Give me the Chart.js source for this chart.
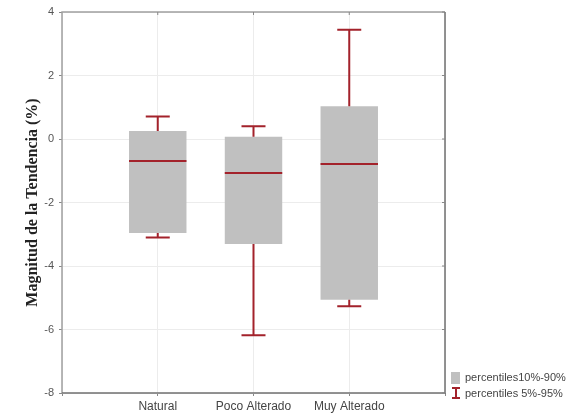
<!DOCTYPE html>
<html>
<head>
<meta charset="utf-8">
<script src="https://cdn.jsdelivr.net/npm/chart.js@4"></script>
<style>
  html, body { margin: 0; padding: 0; background: #fff; }
  #wrap { width: 579px; height: 414px; }
</style>
</head>
<body>
<div id="wrap"><canvas id="boxChart"></canvas></div>
<script>
// categories (empty slots at both ends keep the frame spacing)
const categories = ["", "Natural", "Poco Alterado", "Muy Alterado", ""];
// percentiles 10% and 90% (box)
const p10 = [null, -2.96, -3.31, -5.06, null];
const p90 = [null, 0.25, 0.07, 1.03, null];
// median
const medians = [null, -0.69, -1.07, -0.79, null];
// percentiles 5% and 95% (whiskers)
const p5 = [null, -3.10, -6.18, -5.27, null];
const p95 = [null, 0.71, 0.40, 3.44, null];
const yTicks = [4, 2, 0, -2, -4, -6, -8];
const legendLabels = ["percentiles10%-90%", "percentiles 5%-95%"];

const boxColor = "#c0c0c0";
const redColor = "#a3222b";

// whiskers, medians, frame and legend
const boxPlotExtras = {
  id: "boxPlotExtras",
  afterDatasetsDraw(chart) {
    const ctx = chart.ctx;
    const x = chart.scales.x;
    const y = chart.scales.y;
    const meta = chart.getDatasetMeta(0);
    ctx.save();
    ctx.strokeStyle = redColor;
    ctx.lineWidth = 2;
    categories.forEach((c, i) => {
      if (medians[i] === null) return;
      const cx = x.getPixelForValue(i);
      const half = meta.data[i].width / 2;
      const cap = 12;
      // median
      ctx.beginPath();
      ctx.moveTo(cx - half, y.getPixelForValue(medians[i]));
      ctx.lineTo(cx + half, y.getPixelForValue(medians[i]));
      ctx.stroke();
      // upper whisker
      ctx.beginPath();
      ctx.moveTo(cx, y.getPixelForValue(p90[i]));
      ctx.lineTo(cx, y.getPixelForValue(p95[i]));
      ctx.moveTo(cx - cap, y.getPixelForValue(p95[i]));
      ctx.lineTo(cx + cap, y.getPixelForValue(p95[i]));
      // lower whisker
      ctx.moveTo(cx, y.getPixelForValue(p10[i]));
      ctx.lineTo(cx, y.getPixelForValue(p5[i]));
      ctx.moveTo(cx - cap, y.getPixelForValue(p5[i]));
      ctx.lineTo(cx + cap, y.getPixelForValue(p5[i]));
      ctx.stroke();
    });
    ctx.restore();
  },
  afterDraw(chart) {
    const ctx = chart.ctx;
    const a = chart.chartArea;
    const x = chart.scales.x;
    const y = chart.scales.y;
    ctx.save();
    // frame
    ctx.lineWidth = 1.5;
    ctx.strokeStyle = "#a0a0a0";
    ctx.beginPath();
    ctx.moveTo(a.left, a.bottom);
    ctx.lineTo(a.left, a.top);
    ctx.lineTo(a.right, a.top);
    ctx.stroke();
    ctx.strokeStyle = "#707070";
    ctx.beginPath();
    ctx.moveTo(a.left, a.bottom);
    ctx.lineTo(a.right, a.bottom);
    ctx.lineTo(a.right, a.top);
    ctx.stroke();
    // inner ticks on the top and right sides
    ctx.lineWidth = 1;
    ctx.strokeStyle = "#888";
    ctx.beginPath();
    yTicks.forEach(v => {
      const py = y.getPixelForValue(v);
      ctx.moveTo(a.right - 3, py);
      ctx.lineTo(a.right, py);
    });
    [1, 2, 3].forEach(i => {
      const px = x.getPixelForValue(i);
      ctx.moveTo(px, a.top);
      ctx.lineTo(px, a.top + 3);
    });
    ctx.stroke();
    // legend
    const lx = a.right + 6;
    const ly = a.bottom - 21;
    ctx.fillStyle = boxColor;
    ctx.fillRect(lx, ly, 9, 12);
    ctx.strokeStyle = redColor;
    ctx.lineWidth = 2;
    ctx.beginPath();
    ctx.moveTo(lx + 1, ly + 16);
    ctx.lineTo(lx + 9, ly + 16);
    ctx.moveTo(lx + 5, ly + 16);
    ctx.lineTo(lx + 5, ly + 26);
    ctx.moveTo(lx + 1, ly + 26);
    ctx.lineTo(lx + 9, ly + 26);
    ctx.stroke();
    ctx.fillStyle = "#444";
    ctx.font = "11px 'Liberation Sans', Arial, sans-serif";
    ctx.textBaseline = "middle";
    ctx.fillText(legendLabels[0], lx + 14, ly + 6);
    ctx.fillText(legendLabels[1], lx + 14, ly + 22);
    ctx.restore();
  }
};

new Chart(document.getElementById("boxChart"), {
  type: "bar",
  data: {
    labels: categories,
    datasets: [{
      label: legendLabels[0],
      data: p10.map((v, i) => (v === null ? null : [v, p90[i]])),
      backgroundColor: boxColor,
      borderWidth: 0,
      barPercentage: 1,
      categoryPercentage: 0.6
    }]
  },
  options: {
    responsive: true,
    maintainAspectRatio: false,
    animation: false,
    layout: { padding: { top: 12, right: 134, left: 0, bottom: 0 } },
    plugins: { legend: { display: false }, tooltip: { enabled: false } },
    scales: {
      x: {
        offset: false,
        grid: { offset: false, color: "#ececec", tickLength: 3, tickColor: "#888" },
        border: { display: false },
        ticks: {
          color: "#444",
          font: { family: "'Liberation Sans', Arial, sans-serif", size: 12 },
          maxRotation: 0,
          padding: 3
        },
        afterFit: (s) => { s.height = 21; }
      },
      y: {
        min: -8,
        max: 4,
        afterBuildTicks: (s) => { s.ticks = yTicks.map(v => ({ value: v })); },
        grid: { color: "#ececec", tickLength: 3, tickColor: "#888" },
        border: { display: false },
        ticks: {
          color: "#555",
          font: { family: "'Liberation Sans', Arial, sans-serif", size: 11 },
          padding: 5
        },
        title: {
          display: true,
          text: "Magnitud de la Tendencia (%)",
          color: "#222",
          font: { family: "'Liberation Serif', 'Times New Roman', serif", size: 16, weight: "bold" },
          padding: { top: 23, bottom: 2 }
        },
        afterFit: (s) => { s.width = 62; }
      }
    }
  },
  plugins: [boxPlotExtras]
});
</script>
</body>
</html>
